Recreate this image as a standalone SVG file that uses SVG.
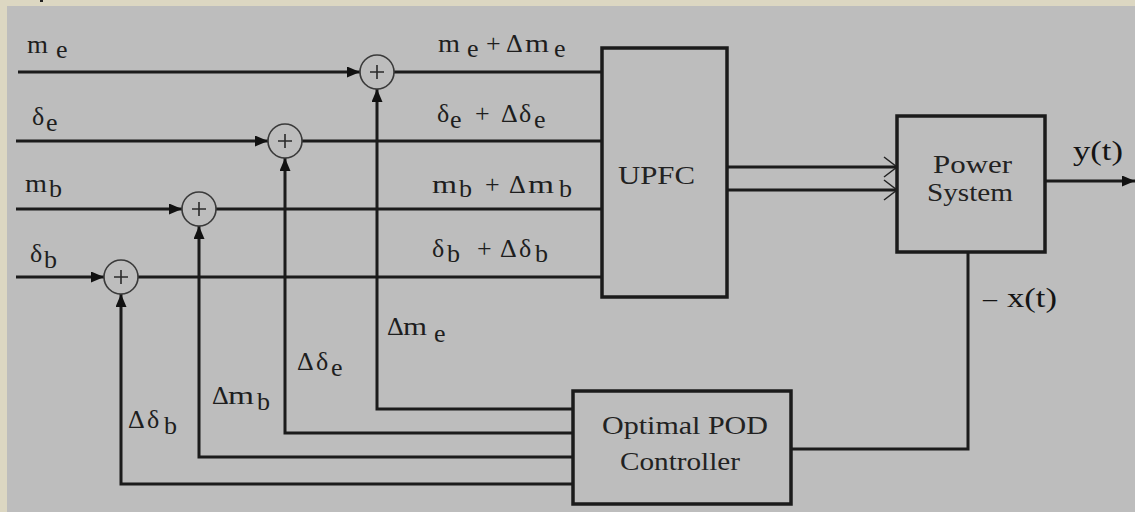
<svg xmlns="http://www.w3.org/2000/svg" width="1135" height="512" viewBox="0 0 1135 512">
<style>
.ln{fill:none;stroke:#1b1b1b;stroke-width:3}
.bx{fill:none;stroke:#1b1b1b;stroke-width:3.5}
.sum{fill:none;stroke:#3a3a3a;stroke-width:1.6}
.plus{stroke:#2a2a2a;stroke-width:1.6}
.t{font-family:"Liberation Serif","Times New Roman",serif;fill:#1e1e1e;font-size:26px}
.bt{font-family:"Liberation Serif","Times New Roman",serif;fill:#222;font-size:25px}
.big{font-family:"Liberation Serif","Times New Roman",serif;fill:#141414;font-size:28px}
</style>
<defs>
<marker id="arr" markerUnits="userSpaceOnUse" markerWidth="13" markerHeight="11" refX="13" refY="5.5" orient="auto">
<path d="M0,0 L13,5.5 L0,11 z" fill="#111"/>
</marker>
<marker id="open" markerUnits="userSpaceOnUse" markerWidth="16" markerHeight="22" refX="14" refY="11" orient="auto">
<path d="M1,1 L14,11 L1,21" fill="none" stroke="#222" stroke-width="1.5"/>
</marker>
</defs>
<rect x="0" y="0" width="1135" height="512" fill="#dcd7c2"/>
<rect x="7" y="6" width="1128" height="506" fill="#bdbdbd"/>
<rect x="40" y="0" width="3" height="2" fill="#222"/>

<g id="connectors">
<path class="ln" d="M18,72 H360" marker-end="url(#arr)"/>
<path class="ln" d="M394,72 H602"/>
<path class="ln" d="M16,141 H268" marker-end="url(#arr)"/>
<path class="ln" d="M302,141 H602"/>
<path class="ln" d="M16,209 H182" marker-end="url(#arr)"/>
<path class="ln" d="M216,209 H602"/>
<path class="ln" d="M16,277 H104" marker-end="url(#arr)"/>
<path class="ln" d="M138,277 H602"/>
<path class="ln" d="M573,409 H377 V89" marker-end="url(#arr)"/>
<path class="ln" d="M573,433 H285 V158" marker-end="url(#arr)"/>
<path class="ln" d="M573,457 H199 V226" marker-end="url(#arr)"/>
<path class="ln" d="M573,484 H121 V294" marker-end="url(#arr)"/>
<path class="ln" d="M727,167 H897" marker-end="url(#open)"/>
<path class="ln" d="M727,190 H897" marker-end="url(#open)"/>
<path class="ln" d="M1045,181 H1135" marker-end="url(#arr)"/>
<path class="ln" d="M968,252 V449 H791"/>

<text class="t"><tspan x="27" y="53" textLength="21" lengthAdjust="spacingAndGlyphs">m</tspan><tspan x="56" y="58">e</tspan></text>
<text class="t"><tspan x="32" y="125">δ</tspan><tspan x="46" y="131">e</tspan></text>
<text class="t"><tspan x="25" y="192" textLength="22" lengthAdjust="spacingAndGlyphs">m</tspan><tspan x="49" y="197">b</tspan></text>
<text class="t"><tspan x="30" y="262">δ</tspan><tspan x="44" y="268">b</tspan></text>

<text class="t"><tspan x="438" y="52" textLength="22" lengthAdjust="spacingAndGlyphs">m</tspan><tspan x="467" y="57">e</tspan><tspan x="486" y="52">+</tspan><tspan x="506" y="52">Δ</tspan><tspan x="525" y="52" textLength="24" lengthAdjust="spacingAndGlyphs">m</tspan><tspan x="554" y="57">e</tspan></text>
<text class="t"><tspan x="437" y="122">δ</tspan><tspan x="450" y="128">e</tspan><tspan x="475" y="122">+</tspan><tspan x="501" y="122">Δ</tspan><tspan x="519" y="122">δ</tspan><tspan x="534" y="128">e</tspan></text>
<text class="t"><tspan x="432" y="193" textLength="25" lengthAdjust="spacingAndGlyphs">m</tspan><tspan x="459" y="197">b</tspan><tspan x="485" y="193">+</tspan><tspan x="509" y="193">Δ</tspan><tspan x="528" y="193" textLength="26" lengthAdjust="spacingAndGlyphs">m</tspan><tspan x="559" y="197">b</tspan></text>
<text class="t"><tspan x="432" y="257">δ</tspan><tspan x="447" y="262">b</tspan><tspan x="477" y="257">+</tspan><tspan x="500" y="257">Δ</tspan><tspan x="519" y="257">δ</tspan><tspan x="535" y="262">b</tspan></text>

<text class="t"><tspan x="387" y="335">Δ</tspan><tspan x="403" y="335" textLength="24" lengthAdjust="spacingAndGlyphs">m</tspan><tspan x="434" y="342">e</tspan></text>
<text class="t"><tspan x="297" y="370">Δ</tspan><tspan x="316" y="370">δ</tspan><tspan x="331" y="376">e</tspan></text>
<text class="t"><tspan x="212" y="404">Δ</tspan><tspan x="228" y="404" textLength="26" lengthAdjust="spacingAndGlyphs">m</tspan><tspan x="257" y="410">b</tspan></text>
<text class="t"><tspan x="128" y="428">Δ</tspan><tspan x="147" y="428">δ</tspan><tspan x="164" y="434">b</tspan></text>

<text class="big" x="1073" y="160" textLength="50" lengthAdjust="spacingAndGlyphs">y(t)</text>
<text class="big"><tspan x="983" y="307">–</tspan><tspan x="1007" y="307" textLength="50" lengthAdjust="spacingAndGlyphs">x(t)</tspan></text>
</g>

<g id="sum-me"><circle class="sum" cx="377" cy="72" r="17"/><path class="plus" d="M370,72 H384 M377,65 V79"/></g>
<g id="sum-de"><circle class="sum" cx="285" cy="141" r="17"/><path class="plus" d="M278,141 H292 M285,134 V148"/></g>
<g id="sum-mb"><circle class="sum" cx="199" cy="209" r="17"/><path class="plus" d="M192,209 H206 M199,202 V216"/></g>
<g id="sum-db"><circle class="sum" cx="121" cy="277" r="17"/><path class="plus" d="M114,277 H128 M121,270 V284"/></g>

<g id="upfc">
<rect class="bx" x="602" y="48" width="125" height="249"/>
<text class="bt" x="618" y="184" textLength="77" lengthAdjust="spacingAndGlyphs">UPFC</text>
</g>
<g id="power-system">
<rect class="bx" x="897" y="116" width="148" height="136"/>
<text class="bt" x="933" y="173" textLength="79" lengthAdjust="spacingAndGlyphs">Power</text>
<text class="bt" x="927" y="201" textLength="86" lengthAdjust="spacingAndGlyphs">System</text>
</g>
<g id="pod-controller">
<rect class="bx" x="573" y="391" width="218" height="113"/>
<text class="bt" x="602" y="434" textLength="166" lengthAdjust="spacingAndGlyphs">Optimal POD</text>
<text class="bt" x="620" y="470" textLength="120" lengthAdjust="spacingAndGlyphs">Controller</text>
</g>
</svg>
